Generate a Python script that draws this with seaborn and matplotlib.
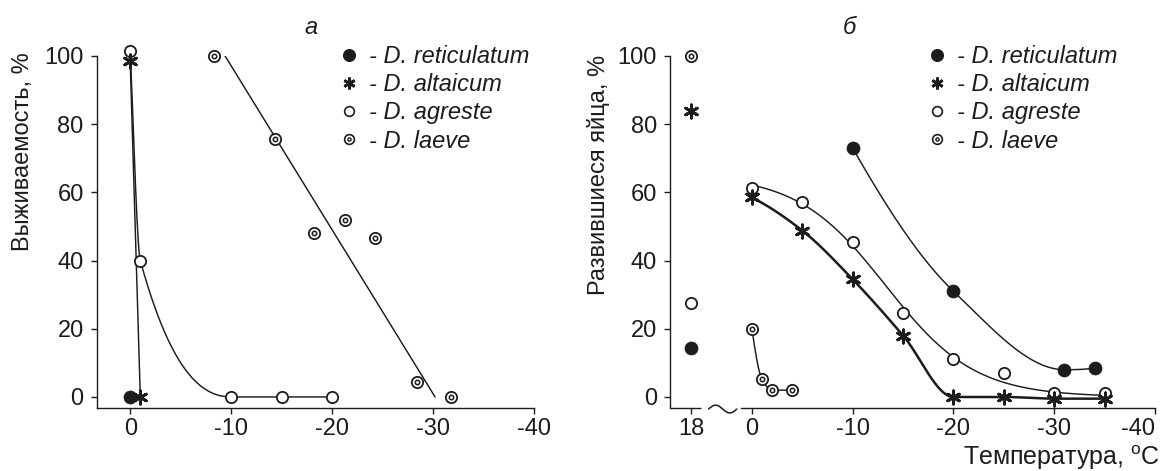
import numpy as np
import pandas as pd
import matplotlib
matplotlib.use("Agg")
import matplotlib.pyplot as plt
from matplotlib.lines import Line2D
import seaborn as sns

# ---------------- data ----------------
species = ["reticulatum", "altaicum", "agreste", "laeve"]

# Panel a: survival, %, vs temperature
a_ret_t = [0]
a_ret_y = [0]
a_alt_t = [0, -1]
a_alt_y = [98.5, 0]
a_agr_t = [0, -1, -10, -15, -20]
a_agr_y = [101.5, 40, 0, 0, 0]
a_lae_t = [-8.3, -14.3, -18.2, -21.3, -24.2, -28.4, -31.8]
a_lae_y = [100, 75.7, 48, 52, 46.5, 4.3, 0]
a_lae_trend_t = [-9.4, -30.2]
a_lae_trend_y = [100, 0]

# Panel b: developed eggs, %, vs temperature (control at +18 °C)
b_ctrl_y = {"reticulatum": 14.5, "altaicum": 84, "agreste": 27.5, "laeve": 100}
b_ret_t = [-10, -20, -31, -34]
b_ret_y = [73, 31, 8, 8.5]
b_alt_t = [0, -5, -10, -15, -20, -25, -30, -35]
b_alt_y = [58.5, 48.8, 34.5, 18, 0, 0, -0.5, -0.5]
b_agr_t = [0, -5, -10, -15, -20, -25, -30, -35]
b_agr_y = [61.3, 57.3, 45.5, 24.7, 11, 7, 1.3, 1.3]
b_lae_t = [0, -1, -2, -4]
b_lae_y = [20, 5.2, 2, 2]

x_ticks = [0, -10, -20, -30, -40]
y_ticks = [0, 20, 40, 60, 80, 100]

# ---------------- helpers ----------------
def pchip(t, y, n=300):
    x = -np.asarray(t, float)
    y = np.asarray(y, float)
    h = np.diff(x)
    d = np.diff(y) / h
    m = np.zeros_like(x)
    if len(x) == 2:
        m[:] = d[0]
    else:
        for k in range(1, len(x) - 1):
            if d[k - 1] * d[k] > 0:
                w1 = 2 * h[k] + h[k - 1]
                w2 = h[k] + 2 * h[k - 1]
                m[k] = (w1 + w2) / (w1 / d[k - 1] + w2 / d[k])
        def endp(h0, h1, d0, d1):
            mm = ((2 * h0 + h1) * d0 - h0 * d1) / (h0 + h1)
            if np.sign(mm) != np.sign(d0):
                mm = 0.0
            elif np.sign(d0) != np.sign(d1) and abs(mm) > abs(3 * d0):
                mm = 3 * d0
            return mm
        m[0] = endp(h[0], h[1], d[0], d[1])
        m[-1] = endp(h[-1], h[-2], d[-1], d[-2])
    xs = np.linspace(x[0], x[-1], n)
    idx = np.clip(np.searchsorted(x, xs, side="right") - 1, 0, len(x) - 2)
    hh = h[idx]
    s = (xs - x[idx]) / hh
    h00 = 2 * s**3 - 3 * s**2 + 1
    h10 = s**3 - 2 * s**2 + s
    h01 = -2 * s**3 + 3 * s**2
    h11 = s**3 - s**2
    ys = h00 * y[idx] + h10 * hh * m[idx] + h01 * y[idx + 1] + h11 * hh * m[idx + 1]
    return -xs, ys

def logistic_fit(t, y, n=300):
    x = -np.asarray(t, float)
    y = np.asarray(y, float)
    best = None
    for t0 in np.linspace(5, 25, 201):
        for sc in np.linspace(1, 10, 91):
            f = 1 / (1 + np.exp((x - t0) / sc))
            A = (f @ y) / (f @ f)
            err = np.sum((A * f - y) ** 2)
            if best is None or err < best[0]:
                best = (err, A, t0, sc)
    _, A, t0, sc = best
    xs = np.linspace(x[0], x[-1], n)
    return -xs, A / (1 + np.exp((xs - t0) / sc))

# ---------------- style ----------------
sns.set_style("ticks")
plt.rcParams["font.family"] = ["Liberation Sans", "DejaVu Sans"]
plt.rcParams["mathtext.fontset"] = "custom"
plt.rcParams["mathtext.rm"] = "Liberation Sans"
plt.rcParams["mathtext.it"] = "Liberation Sans:italic"
plt.rcParams["axes.unicode_minus"] = False

INK = "#1c1c1c"
FS = 17
CTRL_POS = 6.0  # position of the +18 °C control on the broken axis

fig = plt.figure(figsize=(11.63, 4.71), dpi=100, facecolor="white")
bottom, top = 1 - 408 / 471, 1 - 56 / 471
axA = fig.add_axes([96.6 / 1163, bottom, (534.0 - 96.6) / 1163, top - bottom])
axB = fig.add_axes([670 / 1163, bottom, (1155.0 - 670) / 1163, top - bottom])

def line(ax, xs, ys, lw=1.05):
    df = pd.DataFrame({"x": xs, "y": ys})
    sns.lineplot(data=df, x="x", y="y", sort=False, estimator=None, color=INK,
                 linewidth=lw, ax=ax, zorder=2)

def pts(ax, xs, ys, kind):
    df = pd.DataFrame({"x": xs, "y": ys})
    common = dict(data=df, x="x", y="y", ax=ax, legend=False, clip_on=False, zorder=4)
    if kind == "reticulatum":
        sns.scatterplot(marker="o", s=88, color=INK, edgecolor=INK, linewidth=0.5, **common)
    elif kind == "altaicum":
        sns.scatterplot(marker=(6, 2, 0), s=90, color=INK, linewidth=2.1, **common)
    elif kind == "agreste":
        sns.scatterplot(marker="o", s=66, color="white", edgecolor=INK, linewidth=1.3, **common)
    else:
        sns.scatterplot(marker="o", s=66, color="white", edgecolor=INK, linewidth=1.3, **common)
        common["zorder"] = 5
        sns.scatterplot(marker="o", s=10, color="white", edgecolor=INK, linewidth=1.1, **common)

# ---------------- panel a ----------------
line(axA, *pchip(a_alt_t, a_alt_y))
line(axA, *pchip(a_agr_t, a_agr_y))
line(axA, a_lae_trend_t, a_lae_trend_y)
pts(axA, a_ret_t, a_ret_y, "reticulatum")
pts(axA, a_agr_t, a_agr_y, "agreste")
pts(axA, a_alt_t, a_alt_y, "altaicum")
pts(axA, a_lae_t, a_lae_y, "laeve")
axA.set_xlim(3.33, -40)
axA.set_xticks(x_ticks)
axA.set_xticklabels([str(v) for v in x_ticks])

# ---------------- panel b ----------------
line(axB, *pchip(b_ret_t, b_ret_y))
line(axB, *logistic_fit(b_agr_t, b_agr_y))
line(axB, *pchip(b_alt_t, b_alt_y), lw=1.8)
line(axB, *pchip(b_lae_t, b_lae_y))
pts(axB, b_ret_t, b_ret_y, "reticulatum")
pts(axB, b_agr_t, b_agr_y, "agreste")
pts(axB, b_alt_t, b_alt_y, "altaicum")
pts(axB, b_lae_t, b_lae_y, "laeve")
for sp in species:
    pts(axB, [CTRL_POS], [b_ctrl_y[sp]], sp)
axB.set_xlim(8.13, -40)
axB.set_xticks([CTRL_POS] + x_ticks)
axB.set_xticklabels(["18"] + [str(v) for v in x_ticks])

# ---------------- common axes styling ----------------
for ax in (axA, axB):
    ax.set_ylim(-3.24, 100)
    ax.set_yticks(y_ticks)
    ax.set_yticklabels([str(v) for v in y_ticks])
    ax.set_xlabel("")
    ax.set_ylabel("")
    sns.despine(ax=ax)
    for s in ("left", "bottom"):
        ax.spines[s].set_color(INK)
        ax.spines[s].set_linewidth(1.0)
    ax.tick_params(axis="both", direction="out", length=4.3, width=1.0, color=INK,
                   labelsize=FS, labelcolor=INK)
    ax.tick_params(axis="x", pad=3)
    ax.tick_params(axis="y", pad=5)
    ax.set_facecolor("white")

# last tick label of panel b is pulled inside the figure, as in the original
axB.get_xticklabels()[-1].set_horizontalalignment("right")
axB.get_xticklabels()[-1].set_x(-40.3)

# broken x axis in panel b
axB.spines["bottom"].set_bounds(1.04, -40)
tr = axB.get_xaxis_transform()
axB.plot([8.13, 5.04], [0, 0], transform=tr, color=INK, lw=1.0, clip_on=False,
         solid_capstyle="butt")
u = np.linspace(0, 1, 60)
axB.plot(4.3 + (1.5 - 4.3) * u, -0.003 + 0.011 * np.sin(2 * np.pi * u), transform=tr,
         color=INK, lw=1.1, clip_on=False)

# ---------------- legends ----------------
def legend(ax, x_px):
    hs = [
        Line2D([], [], ls="", marker="o", ms=8.4, mfc=INK, mec=INK),
        Line2D([], [], ls="", marker=(6, 2, 0), ms=8.5, mec=INK, mew=2.0),
        Line2D([], [], ls="", marker="o", ms=7.0, mfc="white", mec=INK, mew=1.2),
        (Line2D([], [], ls="", marker="o", ms=7.0, mfc="white", mec=INK, mew=1.2),
         Line2D([], [], ls="", marker="o", ms=2.3, mfc="white", mec=INK, mew=1.0)),
    ]
    labels = ["- D. %s" % s for s in species]
    ax.legend(hs, labels, loc="center left", bbox_to_anchor=(x_px / 1163, 1 - 98.8 / 471),
              bbox_transform=fig.transFigure, frameon=False,
              prop={"size": FS, "style": "italic"},
              handlelength=0.8, handletextpad=0.45, labelspacing=0.22, borderpad=0,
              borderaxespad=0, labelcolor=INK)

legend(axA, 339.8)
legend(axB, 927.2)

# ---------------- texts ----------------
fig.text(310.8 / 1163, 1 - 28 / 471, "а", fontsize=FS, style="italic", ha="center",
         va="center", color=INK)
fig.text(849.5 / 1163, 1 - 27 / 471, "б", fontsize=FS, style="italic", ha="center",
         va="center", color=INK)
fig.text(23 / 1163, 1 - 152 / 471, "Выживаемость, %", rotation=90, fontsize=FS,
         ha="center", va="center", color=INK)
fig.text(598.6 / 1163, 1 - 175 / 471, "Развившиеся яйца, %", rotation=90, fontsize=FS,
         ha="center", va="center", color=INK)
fig.text(1160 / 1163, 1 - 458 / 471, r"Температура, $^{\mathrm{o}}$C", fontsize=18,
         ha="right", va="center", color=INK)

fig.savefig("out.png", dpi=100, facecolor="white")
